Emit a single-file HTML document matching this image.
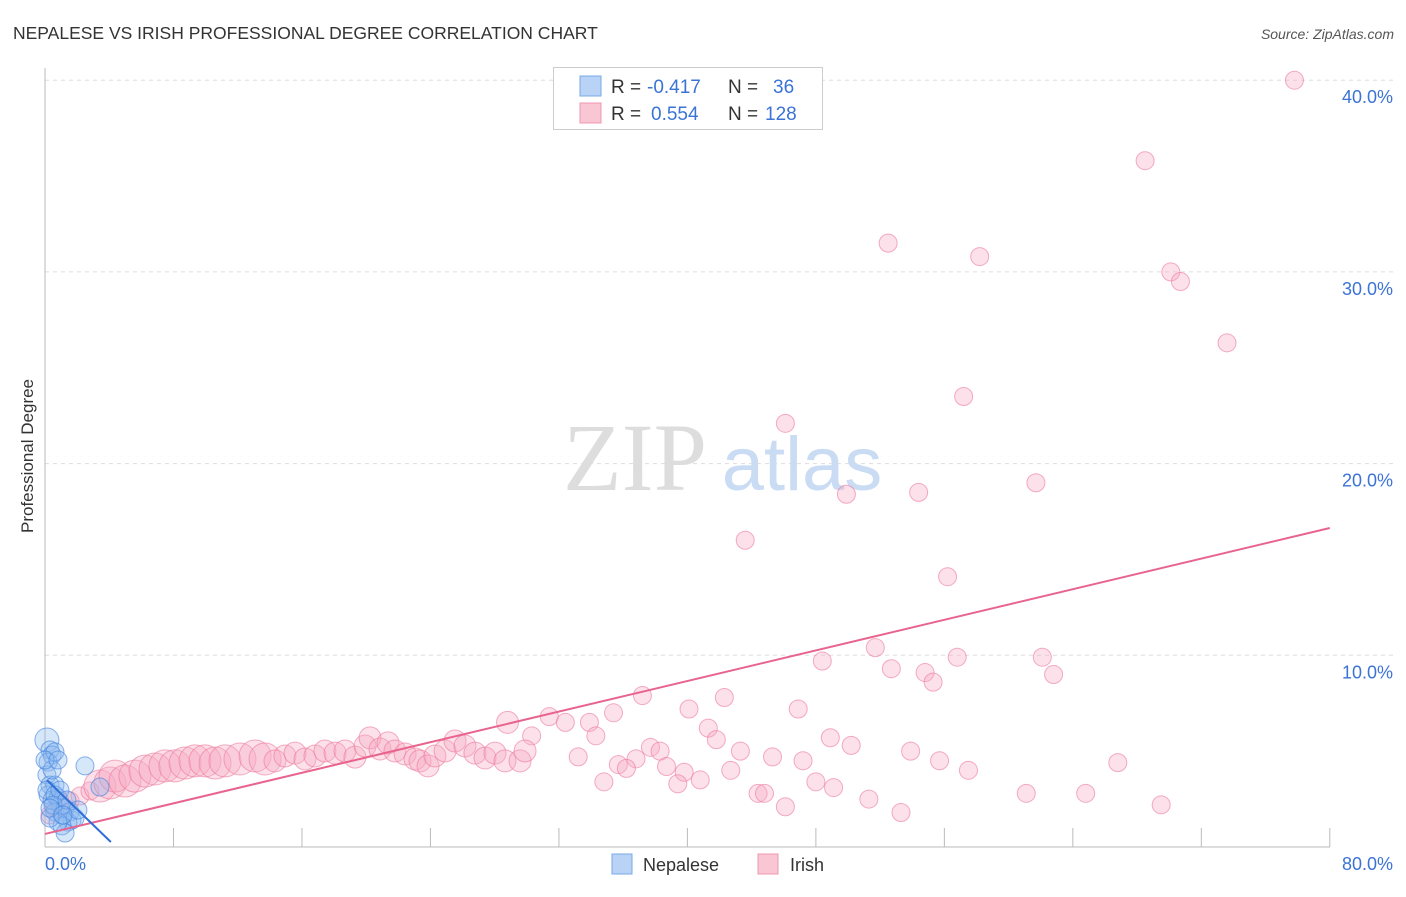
<!DOCTYPE html>
<html><head><meta charset="utf-8"><style>
body{margin:0;background:#fff;font-family:"Liberation Sans",sans-serif;}
svg text{font-family:"Liberation Sans",sans-serif;}
</style></head><body>
<svg id="chart" width="1406" height="892">
<text x="13" y="39" font-size="17.5" fill="#333">NEPALESE VS IRISH PROFESSIONAL DEGREE CORRELATION CHART</text>
<text x="1394" y="39" font-size="14" fill="#555" font-style="italic" text-anchor="end">Source: ZipAtlas.com</text>
<text x="33" y="456" font-size="17" fill="#333" transform="rotate(-90 33 456)" text-anchor="middle">Professional Degree</text>
<g id="grid"></g>
<g id="axes"></g>
<g>
<text x="635" y="490" font-size="96" fill="#ddd" text-anchor="middle" style="font-family:'Liberation Serif',serif">ZIP</text>
<text x="802" y="490" font-size="76" fill="#c9dcf3" text-anchor="middle">atlas</text>
</g>
<g id="pink"></g>
<g id="blue"></g>
<g id="lines"></g>
<g>
<rect x="553.5" y="67.5" width="269" height="62" fill="#fff" stroke="#ccc"/>
<rect x="580" y="76" width="21" height="20" fill="#b8d3f5" stroke="#7aa8e8"/>
<rect x="580" y="103" width="21" height="20" fill="#f9c6d4" stroke="#ef97b0"/>
<text y="93" font-size="19"><tspan x="611" fill="#333">R = </tspan><tspan x="647" fill="#3b73d6">-0.417</tspan><tspan x="728" fill="#333">N = </tspan><tspan x="773" fill="#3b73d6">36</tspan></text>
<text y="120" font-size="19"><tspan x="611" fill="#333">R = </tspan><tspan x="651" fill="#3b73d6">0.554</tspan><tspan x="728" fill="#333">N = </tspan><tspan x="765" fill="#3b73d6">128</tspan></text>
</g>
<g>
<rect x="612" y="854" width="20" height="20" fill="#b8d3f5" stroke="#7aa8e8"/>
<text x="643" y="871" font-size="18" fill="#333">Nepalese</text>
<rect x="758" y="854" width="20" height="20" fill="#f9c6d4" stroke="#ef97b0"/>
<text x="790" y="871" font-size="18" fill="#333">Irish</text>
</g>
</svg>
<script>
const yTicks=[10,20,30,40];
const yTickLabels=["10.0%","20.0%","30.0%","40.0%"];
const xEndLabels=["0.0%","80.0%"];
const blueX=[0.12,0.31,0.44,0.19,0.62,0.12,0.31,0.62,0.19,0.44,0.81,0.93,0.62,1.06,1.25,1.56,1.68,1.43,1.87,1.06,1.25,0.81,0.31,2.49,3.42,0.44,0.12,0.62,0.93,0.5,1.37,0,0.81,0.31,2.05,1.12];
const blueY=[5.58,5.06,4.8,4.43,4.96,3.76,3.23,3.23,2.71,2.45,2.56,2.19,1.83,1.67,2.03,1.83,1.41,1.3,1.51,1.1,0.73,1.3,1.51,4.23,3.13,4.02,2.97,2.71,2.97,2.19,2.45,4.54,4.54,2.03,1.93,1.67];
const pinkX=[77.8,68.5,52.5,58.2,70.1,70.7,73.6,57.2,46.1,49.9,54.4,61.7,43.6,56.2,48.4,51.7,52.7,54.8,55.3,56.8,62.1,62.8,37.2,42.3,40.1,46.9,35.4,31.4,28.8,32.4,33.9,41.3,30.3,34.3,41.8,48.9,50.2,53.9,37.7,38.3,43.3,45.3,47.2,55.7,66.8,36.8,35.7,36.2,33.2,38.7,39.8,42.7,57.5,34.8,39.4,40.8,48.0,49.1,44.4,44.8,61.1,64.8,51.3,46.1,69.5,53.3,
0.31,0.62,0.93,1.56,2.18,2.8,3.42,4.05,4.36,4.98,5.6,6.23,6.85,7.47,8.09,8.72,9.34,9.96,10.59,11.21,12.14,13.08,13.7,14.32,14.94,15.57,16.19,16.81,17.43,18.06,18.68,19.3,19.93,20.24,20.86,21.36,21.79,22.42,23.04,23.35,23.85,24.28,24.91,25.53,26.15,26.77,27.4,28.02,28.64,29.58,29.89];
const pinkY=[40.0,35.8,31.5,30.8,30.0,29.5,26.3,23.5,22.1,18.4,18.5,19.0,16.0,14.1,9.7,10.4,9.3,9.1,8.6,9.9,9.9,9.0,7.9,7.8,7.2,7.2,7.0,6.8,6.5,6.5,6.5,6.2,5.8,5.8,5.6,5.7,5.3,5.0,5.2,5.0,5.0,4.7,4.5,4.5,4.4,4.6,4.3,4.1,4.7,4.2,3.9,4.0,4.0,3.4,3.3,3.5,3.4,3.1,2.8,2.8,2.8,2.8,2.5,2.1,2.2,1.8,
1.67,2.03,2.4,2.4,2.66,2.92,3.18,3.34,3.7,3.44,3.7,3.96,4.07,4.23,4.23,4.38,4.49,4.49,4.38,4.49,4.59,4.75,4.59,4.49,4.75,4.9,4.59,4.75,5.01,4.9,5.01,4.69,5.27,5.69,5.11,5.43,5.01,4.85,4.59,4.49,4.23,4.75,5.01,5.53,5.27,4.9,4.64,4.9,4.49,4.49,5.01];
const pinkTrend=[[0,0.68],[80,16.64]];
const blueTrend=[[0.12,3.49],[4.1,0.26]];
const X=v=>45+v*16.06, Y=v=>847-v*19.17;
const NS="http://www.w3.org/2000/svg";
function mk(tag,attrs,parent){const e=document.createElementNS(NS,tag);for(const k in attrs)e.setAttribute(k,attrs[k]);parent.appendChild(e);return e;}
const grid=document.getElementById('grid'),axes=document.getElementById('axes');
yTicks.forEach((t,i)=>{
  const l=mk('line',{x1:45,x2:1393,y1:Y(t),y2:Y(t),stroke:'#ddd','stroke-dasharray':'4,4'},grid);
  
  
  const tx=mk('text',{x:1393,y:Y(t)+23,'font-size':18,fill:'#3b73d6','text-anchor':'end'},axes);
  tx.textContent=yTickLabels[i];
  
  
});
mk('line',{x1:45,x2:45,y1:68,y2:847,stroke:'#bbb'},axes);
mk('line',{x1:45,x2:1330,y1:847,y2:847,stroke:'#bbb'},axes);
for(let i=1;i<=10;i++){const t=mk('line',{x1:X(i*8),x2:X(i*8),y1:847,y2:828,stroke:'#bbb'},axes);
  
  }
const l0=mk('text',{x:45,y:870,'font-size':18,fill:'#3b73d6'},axes);l0.textContent=xEndLabels[0];


const l1=mk('text',{x:1393,y:870,'font-size':18,fill:'#3b73d6','text-anchor':'end'},axes);l1.textContent=xEndLabels[1];


const pg=document.getElementById('pink');
pinkX.forEach((x,i)=>{
  const big=(x>3&&x<14)?16:(x<30&&x>=14?11:9);
  const c=mk('circle',{cx:X(x),cy:Y(pinkY[i]),r:big,fill:'rgba(247,170,195,0.35)',stroke:'rgba(236,120,155,0.6)','stroke-width':1},pg);
  
  
});
const bg=document.getElementById('blue');
blueX.forEach((x,i)=>{
  const c=mk('circle',{cx:X(x),cy:Y(blueY[i]),r:i==0?12:9,fill:'rgba(140,185,240,0.35)',stroke:'rgba(60,125,220,0.6)','stroke-width':1},bg);
  
  
});
const lg=document.getElementById('lines');
const pl=mk('line',{x1:X(pinkTrend[0][0]),y1:Y(pinkTrend[0][1]),x2:X(pinkTrend[1][0]),y2:Y(pinkTrend[1][1]),stroke:'#e8648f','stroke-width':2},lg);


const bl=mk('line',{x1:X(blueTrend[0][0]),y1:Y(blueTrend[0][1]),x2:X(blueTrend[1][0]),y2:Y(blueTrend[1][1]),stroke:'#2f6fd6','stroke-width':2},lg);


</script>
</body></html>
